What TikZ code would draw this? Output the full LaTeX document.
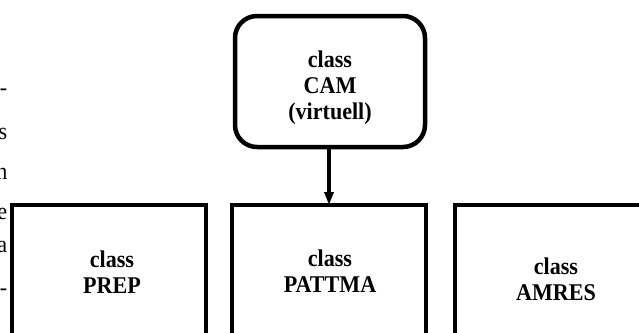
\documentclass[tikz,border=0pt]{standalone}
\usepackage{fontspec}
\setmainfont{Liberation Serif}[FakeStretch=0.92]
\usetikzlibrary{arrows.meta}
\begin{document}
\begin{tikzpicture}[x=1pt,y=-1pt,
  frame/.style={draw,line width=4.5pt,outer sep=0pt,inner sep=0pt},
  classbox/.style={frame,minimum width=194pt,minimum height=200pt,anchor=north},
  camtext/.style={font=\fontsize{24}{26}\selectfont\bfseries,align=center,inner sep=0pt},
  margintext/.style={font=\fontsize{24}{26}\selectfont,anchor=base east,inner sep=0pt},
  inherit/.style={line width=4pt,-{Triangle[length=13pt,width=9pt]}}]
\useasboundingbox (0,0) rectangle (639,332);
\clip (0,0) rectangle (639,332);

% line ends of the running text on the left
\node[margintext] (m1) at (7.5,95) {-};
\node[margintext] (m2) at (7.5,139) {s};
\node[margintext] (m3) at (7.5,179) {n};
\node[margintext] (m4) at (7.5,219) {e};
\node[margintext] (m5) at (7.5,252) {a};
\node[margintext] (m6) at (7.5,295) {-};

% abstract base class
\node[frame,rounded corners=22pt,minimum width=190pt,minimum height=131pt] (cam) at (330,81.5) {};
\node[camtext] (camlabel) at (330,88) {class\\CAM\\(virtuell)};

% derived classes
\node[classbox] (prep) at (109,205) {};
\node[classbox] (pattma) at (329,205) {};
\node[classbox] (amres) at (552,205) {};
\node[camtext] (preplabel) at (112,272) {class\\PREP};
\node[camtext] (pattmalabel) at (330,271) {class\\PATTMA};
\node[camtext] (amreslabel) at (556,279) {class\\AMRES};

\draw[inherit] (cam.south -| pattma.north) -- (pattma.north);
\end{tikzpicture}
\end{document}
